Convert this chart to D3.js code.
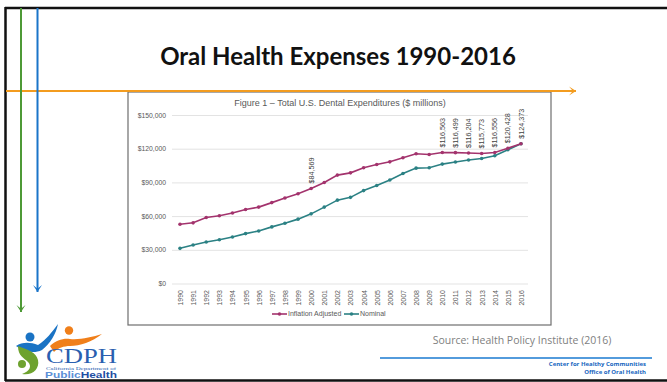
<!DOCTYPE html>
<html>
<head>
<meta charset="utf-8">
<script src="https://cdn.jsdelivr.net/npm/d3@7"></script>
<style>
  html, body { margin: 0; padding: 0; background: #fff; }
  svg { display: block; }
</style>
</head>
<body>
<svg id="slide" width="667" height="382"></svg>
<script>
// Total U.S. dental expenditures, $ millions
const years = d3.range(1990, 2017).map(String);
const inflationAdjusted = [52800, 54000, 58700, 60300, 62700, 65900, 68000, 72000, 76100, 79900,
  84569, 89900, 96500, 98500, 103000, 105900, 108300, 111900, 115500, 114900,
  116563, 116499, 116204, 115773, 116556, 120428, 124373];
const nominal = [31300, 34300, 37000, 39000, 41400, 44400, 46800, 50400, 53700, 57300,
  62000, 68000, 74200, 76700, 82700, 87200, 92200, 97900, 102700, 103000,
  106300, 108100, 109900, 111300, 113700, 119100, 124373];
const labelledYears = ["2000", "2010", "2011", "2012", "2013", "2014", "2015", "2016"];
const yTicks = [0, 30000, 60000, 90000, 120000, 150000];

const svg = d3.select("#slide");
const magenta = "#a3336d";
const teal = "#2b8184";

// slide frame
svg.append("line").attr("x1", 5).attr("x2", 667).attr("y1", 8).attr("y2", 8)
  .attr("stroke", "#111").attr("stroke-width", 2.5);
svg.append("line").attr("x1", 5.5).attr("x2", 5.5).attr("y1", 7).attr("y2", 381)
  .attr("stroke", "#111").attr("stroke-width", 2.5);
svg.append("line").attr("x1", 5).attr("x2", 667).attr("y1", 380.5).attr("y2", 380.5)
  .attr("stroke", "#111").attr("stroke-width", 2.5);

// slide title
svg.append("text").attr("x", 338).attr("y", 65).attr("text-anchor", "middle")
  .attr("font-family", "Lato, 'Open Sans', sans-serif").attr("font-weight", 700)
  .attr("font-size", 24).attr("fill", "#111").text("Oral Health Expenses 1990-2016");

// chart panel
const panel = { x: 128, y: 92, w: 423, h: 233 };
svg.append("rect").attr("x", panel.x).attr("y", panel.y).attr("width", panel.w).attr("height", panel.h)
  .attr("fill", "#fff").attr("stroke", "#6e6e6e").attr("stroke-width", 1.2);

const x = d3.scalePoint().domain(years).range([180, 521]);
const y = d3.scaleLinear().domain([0, 150000]).range([283.5, 115]);

svg.append("text").attr("x", 340).attr("y", 106).attr("text-anchor", "middle")
  .attr("font-family", "'Liberation Sans', Arial, sans-serif").attr("font-size", 9)
  .attr("fill", "#595959").text("Figure 1 \u2013 Total U.S. Dental Expenditures ($ millions)");

// gridlines and y labels
const yAxis = d3.axisLeft(y).tickValues(yTicks).tickSize(-(528 - 172))
  .tickFormat(d => "$" + d3.format(",")(d)).tickPadding(6);
const gy = svg.append("g").attr("transform", "translate(172,0)").call(yAxis);
gy.select(".domain").remove();
gy.selectAll(".tick line").attr("stroke", "#e3e3e3").attr("stroke-width", 1);
gy.selectAll(".tick text").attr("font-family", "'Liberation Sans', Arial, sans-serif")
  .attr("font-size", 6.8).attr("fill", "#595959");

// x labels, rotated
const xAxis = d3.axisBottom(x).tickSize(0).tickPadding(0);
const gx = svg.append("g").attr("transform", "translate(0,288)").call(xAxis);
gx.select(".domain").remove();
gx.selectAll(".tick text").attr("font-family", "'Liberation Sans', Arial, sans-serif")
  .attr("font-size", 7).attr("fill", "#595959")
  .attr("transform", "rotate(-90)").attr("text-anchor", "end")
  .attr("x", -2).attr("y", 0).attr("dy", "0.35em");

// series
function drawSeries(values, color) {
  const pts = years.map((yr, i) => [x(yr), y(values[i])]);
  svg.append("path").attr("d", d3.line()(pts)).attr("fill", "none")
    .attr("stroke", color).attr("stroke-width", 1.6);
  svg.append("g").selectAll("circle").data(pts).join("circle")
    .attr("cx", d => d[0]).attr("cy", d => d[1]).attr("r", 1.8).attr("fill", color);
}
drawSeries(nominal, teal);
drawSeries(inflationAdjusted, magenta);

// value labels above inflation-adjusted points
labelledYears.forEach(yr => {
  const i = years.indexOf(yr);
  const px = x(yr), py = y(inflationAdjusted[i]) - 5;
  svg.append("text").attr("transform", `translate(${px},${py}) rotate(-90)`)
    .attr("dy", "0.35em").attr("font-family", "'Liberation Sans', Arial, sans-serif")
    .attr("font-size", 7.2).attr("fill", "#404040")
    .text("$" + d3.format(",")(inflationAdjusted[i]));
});

// legend
const legend = [
  { name: "Inflation Adjusted", color: magenta, x: 272 },
  { name: "Nominal", color: teal, x: 344 }
];
legend.forEach(l => {
  const g = svg.append("g").attr("transform", `translate(${l.x},314)`);
  g.append("line").attr("x1", 0).attr("x2", 15).attr("stroke", l.color).attr("stroke-width", 1.6);
  g.append("circle").attr("cx", 7.5).attr("r", 1.8).attr("fill", l.color);
  g.append("text").attr("x", 16).attr("dy", "0.35em")
    .attr("font-family", "'Liberation Sans', Arial, sans-serif").attr("font-size", 7)
    .attr("fill", "#595959").text(l.name);
});

// annotation arrows
function arrow(x1, y1, x2, y2, color) {
  svg.append("line").attr("x1", x1).attr("y1", y1).attr("x2", x2).attr("y2", y2)
    .attr("stroke", color).attr("stroke-width", 2);
  const ang = Math.atan2(y2 - y1, x2 - x1);
  const len = 7, wid = 4.5;
  const p = [
    [x2, y2],
    [x2 - len * Math.cos(ang) + wid * Math.sin(ang), y2 - len * Math.sin(ang) - wid * Math.cos(ang)],
    [x2 - len * Math.cos(ang) * 0.45, y2 - len * Math.sin(ang) * 0.45],
    [x2 - len * Math.cos(ang) - wid * Math.sin(ang), y2 - len * Math.sin(ang) + wid * Math.cos(ang)]
  ];
  svg.append("path").attr("d", "M" + p.join("L") + "Z").attr("fill", color);
}
arrow(6, 91, 576, 91, "#f39c1f");
arrow(21, 8, 21, 312, "#4e9a36");
arrow(37.5, 8, 37.5, 292, "#1a75c9");

// source line
svg.append("text").attr("x", 522).attr("y", 344).attr("text-anchor", "middle")
  .attr("font-family", "'Open Sans', sans-serif").attr("font-size", 10.5)
  .attr("fill", "#808080").text("Source: Health Policy Institute (2016)");

// footer
svg.append("line").attr("x1", 380).attr("x2", 652).attr("y1", 358).attr("y2", 358)
  .attr("stroke", "#1a7ad0").attr("stroke-width", 1.6);
svg.append("text").attr("x", 646).attr("y", 366).attr("text-anchor", "end")
  .attr("font-family", "'Open Sans', sans-serif").attr("font-weight", 700)
  .attr("font-size", 6).attr("fill", "#1565c0").text("Center for Healthy Communities");
svg.append("text").attr("x", 646).attr("y", 374).attr("text-anchor", "end")
  .attr("font-family", "'Open Sans', sans-serif").attr("font-weight", 700)
  .attr("font-size", 6).attr("fill", "#1565c0").text("Office of Oral Health");

// CDPH logo
const logo = svg.append("g").attr("transform", "translate(12,322)");
// orange figure
logo.append("path").attr("d", "M38,24 C44,18 52,16 58,17 C68,18 80,15 90,12 C80,20 68,24 58,24 C52,24 46,26 42,30 Z")
  .attr("fill", "#f07f1a");
logo.append("circle").attr("cx", 57).attr("cy", 8.5).attr("r", 4.2).attr("fill", "#f07f1a");
// blue figure
logo.append("path").attr("d", "M4,24 C10,20 18,20 26,23 C34,18 40,10 46,2 C44,12 38,22 30,28 C22,32 12,30 4,24 Z")
  .attr("fill", "#1a73c4");
logo.append("circle").attr("cx", 18).attr("cy", 15).attr("r", 4.5).attr("fill", "#1a73c4");
// green swirl
logo.append("path").attr("d", "M6,24 C16,28 24,30 26,38 C28,47 20,54 10,52 C18,49 20,44 16,40 C12,36 6,34 6,24 Z")
  .attr("fill", "#6ea22f");
logo.append("circle").attr("cx", 10).attr("cy", 42).attr("r", 4).attr("fill", "#6ea22f");
logo.append("text").attr("x", 34).attr("y", 41).attr("font-family", "'Liberation Serif', serif")
  .attr("font-size", 21).attr("fill", "#2a5fb0")
  .attr("textLength", 71).attr("lengthAdjust", "spacingAndGlyphs").text("CDPH");
logo.append("text").attr("x", 34).attr("y", 48).attr("font-family", "'Liberation Serif', serif")
  .attr("font-size", 3.4).attr("fill", "#2a5fb0")
  .attr("textLength", 70).attr("lengthAdjust", "spacingAndGlyphs").text("California Department of");
logo.append("text").attr("x", 33).attr("y", 56).attr("font-family", "'Liberation Sans', sans-serif")
  .attr("font-weight", 700).attr("font-size", 8.5)
  .attr("textLength", 72).attr("lengthAdjust", "spacingAndGlyphs")
  .call(t => {
    t.append("tspan").attr("fill", "#5b8fd6").text("Public");
    t.append("tspan").attr("fill", "#1f4fa3").text("Health");
  });
</script>
</body>
</html>
